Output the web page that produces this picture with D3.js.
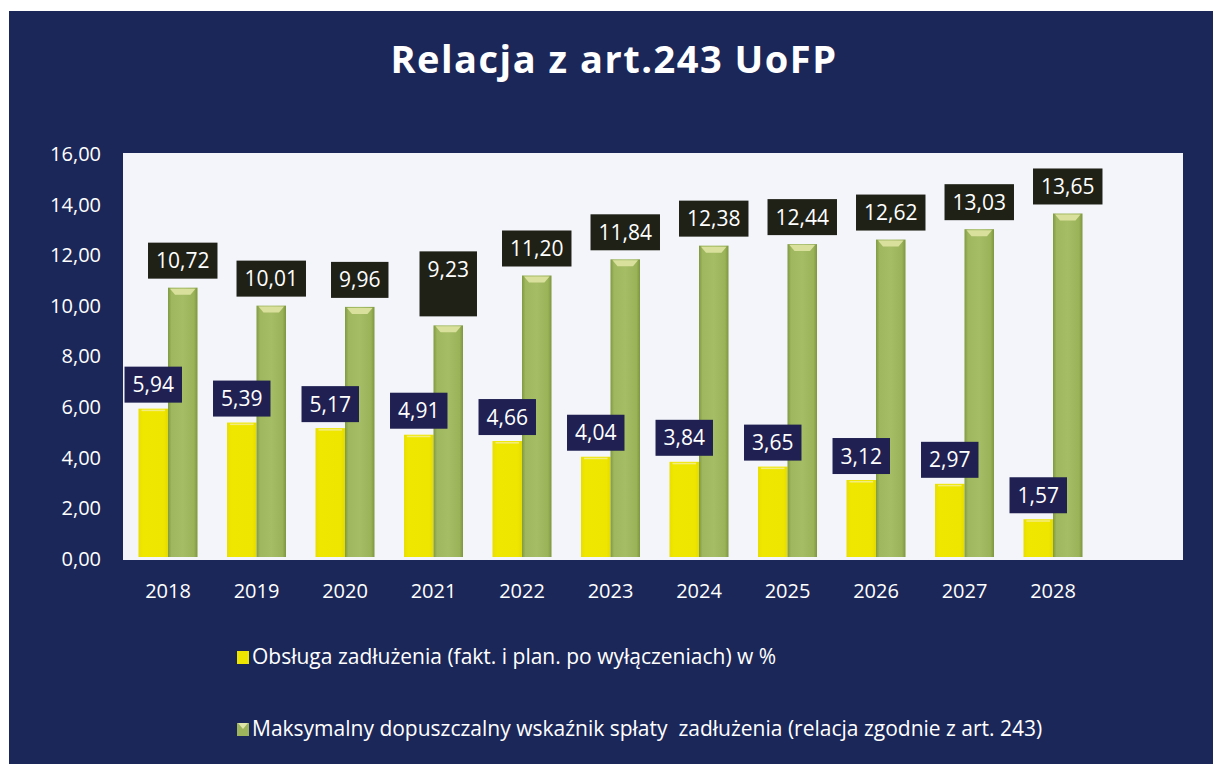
<!DOCTYPE html>
<html>
<head>
<meta charset="utf-8">
<script src="https://cdn.jsdelivr.net/npm/d3@7/dist/d3.min.js"></script>
<style>
  html, body { margin: 0; padding: 0; background: #ffffff; }
  svg { display: block; }
  text { font-family: "Open Sans", "DejaVu Sans", sans-serif; }
</style>
</head>
<body>
<svg id="chart" width="1213" height="764"></svg>
<script>
// ---- data ----
const years = ["2018","2019","2020","2021","2022","2023","2024","2025","2026","2027","2028"];
const debtService = [5.94, 5.39, 5.17, 4.91, 4.66, 4.04, 3.84, 3.65, 3.12, 2.97, 1.57];
const maxRatio = [10.72, 10.01, 9.96, 9.23, 11.20, 11.84, 12.38, 12.44, 12.62, 13.03, 13.65];
const yTicks = [0, 2, 4, 6, 8, 10, 12, 14, 16];
const seriesNames = [
  "Obsługa zadłużenia (fakt. i plan. po wyłączeniach) w %",
  "Maksymalny dopuszczalny wskaźnik spłaty  zadłużenia (relacja zgodnie z art. 243)"
];
const titleText = "Relacja z art.243 UoFP";

// ---- setup ----
const W = 1213, H = 764;
const svg = d3.select("#chart");
const plEU = d3.formatLocale({decimal: ",", thousands: " ", grouping: [3], currency: ["", " zł"]});
const fmt = plEU.format(".2f");

const colors = {
  bg: "#1c2759",
  plot: "#f4f5fa",
  yellow: "#eee500",
  green: "#9db45c",
  boxY: "#202152",
  boxG: "#1f2117"
};

const defs = svg.append("defs");
const gg = defs.append("linearGradient").attr("id", "gGreen").attr("x1", "0").attr("x2", "1").attr("y1", "0").attr("y2", "0");
[["0%", "#809a42"], ["12%", "#9fb75e"], ["50%", "#a5bd65"], ["88%", "#9ab258"], ["100%", "#7e973f"]]
  .forEach(([o, c]) => gg.append("stop").attr("offset", o).attr("stop-color", c));
const gy = defs.append("linearGradient").attr("id", "gYellow").attr("x1", "0").attr("x2", "1").attr("y1", "0").attr("y2", "0");
[["0%", "#e8df00"], ["15%", "#f0e700"], ["85%", "#efe600"], ["100%", "#e4db00"]]
  .forEach(([o, c]) => gy.append("stop").attr("offset", o).attr("stop-color", c));

// background
svg.append("rect").attr("x", 0).attr("y", 0).attr("width", W).attr("height", H).attr("fill", "#ffffff");
svg.append("rect").attr("x", 9).attr("y", 11).attr("width", W - 9).attr("height", H - 11).attr("fill", colors.bg);

// plot area
const plot = {left: 123, top: 153, right: 1183, bottom: 560};
svg.append("rect")
  .attr("x", plot.left).attr("y", plot.top)
  .attr("width", plot.right - plot.left).attr("height", plot.bottom - plot.top)
  .attr("fill", colors.plot);

// scales
const x = d3.scaleBand().domain(years).range([123.75, 1097.25]).paddingInner(1/3).paddingOuter(1/6);
const xs = d3.scaleBand().domain(["a", "b"]).range([0, x.bandwidth()]);
const y = d3.scaleLinear().domain([0, 16]).range([559, 154]);

// title
svg.append("text")
  .attr("x", 614).attr("y", 73)
  .attr("text-anchor", "middle")
  .attr("fill", "#ffffff")
  .attr("font-size", 38)
  .attr("font-weight", "bold")
  .attr("letter-spacing", 1.5)
  .text(titleText);

// y axis
const yAxis = d3.axisLeft(y).tickValues(yTicks).tickFormat(fmt).tickSize(0).tickPadding(0);
const gyA = svg.append("g").attr("transform", "translate(101,0)").call(yAxis);
gyA.select(".domain").remove();
gyA.selectAll("text").attr("fill", "#ffffff").attr("font-size", 20).attr("font-family", "'Open Sans', sans-serif");

// x axis
const xAxis = d3.axisBottom(x).tickSize(0).tickPadding(0);
const gxA = svg.append("g").attr("transform", "translate(0,584)").call(xAxis);
gxA.select(".domain").remove();
gxA.selectAll("text").attr("fill", "#ffffff").attr("font-size", 20).attr("font-family", "'Open Sans', sans-serif");

// bars
const rows = years.map((yr, i) => ({yr, a: debtService[i], b: maxRatio[i]}));
const bars = svg.append("g");

bars.selectAll("rect.ya").data(rows).join("rect")
  .attr("class", "ya")
  .attr("x", d => x(d.yr) + xs("a"))
  .attr("y", d => y(d.a))
  .attr("width", xs.bandwidth())
  .attr("height", d => y(0) - y(d.a) - 2)
  .attr("fill", "url(#gYellow)");
bars.selectAll("rect.yt").data(rows).join("rect")
  .attr("x", d => x(d.yr) + xs("a") + 3)
  .attr("y", d => y(d.a) + 1)
  .attr("width", xs.bandwidth() - 6)
  .attr("height", 1.5)
  .attr("fill", "#f3ed80");

bars.selectAll("rect.gb").data(rows).join("rect")
  .attr("class", "gb")
  .attr("x", d => x(d.yr) + xs("b"))
  .attr("y", d => y(d.b))
  .attr("width", xs.bandwidth())
  .attr("height", d => y(0) - y(d.b) - 2)
  .attr("fill", "url(#gGreen)");
bars.selectAll("path.bev").data(rows).join("path")
  .attr("d", d => {
    const x0 = x(d.yr) + xs("b"), x1 = x0 + xs.bandwidth(), t = y(d.b);
    return `M${x0 + 2},${t + 1}L${x1 - 2},${t + 1}L${x1 - 7},${t + 7}L${x0 + 7},${t + 7}Z`;
  })
  .attr("fill", "#d9e09c");

// data labels
function labelBox(g, cx, bottom, txt, fill, extraTop) {
  const t = g.append("text")
    .attr("x", cx).attr("text-anchor", "middle")
    .attr("fill", "#ffffff").attr("font-size", 21)
    .text(txt);
  const w = t.node().getComputedTextLength() + 16;
  const h = 36;
  const top = bottom - h - extraTop;
  g.insert("rect", "text")
    .attr("x", cx - w / 2).attr("y", top)
    .attr("width", w).attr("height", h + extraTop)
    .attr("fill", fill);
  t.attr("y", top + h / 2 + 7.5);
}
const lab = svg.append("g");
rows.forEach(d => {
  const gA = lab.append("g");
  labelBox(gA, x(d.yr) + xs("a") + xs.bandwidth() / 2, y(d.a) - 6, fmt(d.a), colors.boxY, 0);
  const gB = lab.append("g");
  labelBox(gB, x(d.yr) + xs("b") + xs.bandwidth() / 2, y(d.b) - 9, fmt(d.b), colors.boxG, d.yr === "2021" ? 29 : 0);
});

// legend
const legend = svg.append("g");
const legendRows = [
  {name: seriesNames[0], color: colors.yellow, y: 657},
  {name: seriesNames[1], color: colors.green, y: 729}
];
legendRows.forEach((r, i) => {
  legend.append("rect").attr("x", 237).attr("y", r.y - 6).attr("width", 12).attr("height", 13).attr("fill", r.color);
  if (i === 1) {
    legend.append("path")
      .attr("d", `M238,${r.y - 6}L248,${r.y - 6}L243,${r.y}Z`)
      .attr("fill", "#dfe4a8");
  }
  legend.append("text")
    .attr("x", 252).attr("y", r.y + 7)
    .attr("fill", "#ffffff").attr("font-size", 21)
    .style("white-space", "pre")
    .text(r.name);
});
</script>
</body>
</html>
